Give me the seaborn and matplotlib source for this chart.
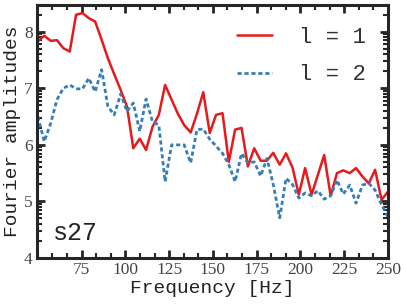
import numpy as np
import pandas as pd
import matplotlib
matplotlib.use('Agg')
import matplotlib.pyplot as plt
from matplotlib.ticker import FixedLocator, FuncFormatter, LogLocator, MultipleLocator
import seaborn as sns

# frequency grid [Hz]
freq = [50.0, 53.6, 57.3, 60.9, 64.5, 68.2, 71.8, 75.5, 79.1, 82.7,
        86.4, 90.0, 93.6, 97.3, 100.9, 104.5, 108.2, 111.8, 115.5, 119.1,
        122.7, 126.4, 130.0, 133.6, 137.3, 140.9, 144.5, 148.2, 151.8, 155.5,
        159.1, 162.7, 166.4, 170.0, 173.6, 177.3, 180.9, 184.5, 188.2, 191.8,
        195.5, 199.1, 202.7, 206.4, 210.0, 213.6, 217.3, 220.9, 224.5, 228.2,
        231.8, 235.5, 239.1, 242.7, 246.4, 250.0]

# log10 of Fourier amplitudes
amp_l1 = [7.83, 7.93, 7.84, 7.85, 7.71, 7.65, 8.30, 8.33, 8.24, 8.18,
          7.86, 7.53, 7.25, 6.97, 6.68, 5.94, 6.11, 5.91, 6.32, 6.53,
          7.06, 6.80, 6.55, 6.35, 6.22, 6.55, 6.93, 6.21, 6.53, 6.56,
          5.70, 6.27, 6.30, 5.62, 5.94, 5.72, 5.72, 5.86, 5.65, 5.85,
          5.60, 5.12, 5.59, 5.12, 5.47, 5.82, 5.10, 5.50, 5.55, 5.50,
          5.59, 5.44, 5.32, 5.56, 5.03, 5.17]
amp_l2 = [6.50, 6.06, 6.38, 6.80, 7.00, 7.06, 6.99, 6.99, 7.18, 6.94,
          7.33, 6.68, 6.53, 6.90, 6.59, 6.74, 6.24, 6.81, 6.41, 6.35,
          5.35, 6.00, 6.00, 6.00, 5.68, 6.27, 6.28, 6.10, 5.98, 5.85,
          5.65, 5.35, 5.85, 5.68, 5.70, 5.45, 5.76, 5.30, 4.71, 5.41,
          5.30, 5.06, 5.15, 5.10, 5.19, 5.04, 5.10, 5.38, 5.13, 5.29,
          4.97, 5.29, 5.32, 5.20, 4.94, 4.73]

x_ticks = [75, 100, 125, 150, 175, 200, 225, 250]
y_ticks = [4, 5, 6, 7, 8]
label_text = 's27'

sns.set_style('ticks')
mono = ['Liberation Mono', 'DejaVu Sans Mono']
serif = ['Liberation Serif', 'DejaVu Serif']

df = pd.DataFrame({'freq': freq,
                   'l1': 10 ** np.array(amp_l1),
                   'l2': 10 ** np.array(amp_l2)})

fig = plt.figure(figsize=(4.07, 3.05), dpi=100)
ax = fig.add_axes([0.091, 0.154, 0.862, 0.831])

sns.lineplot(data=df, x='freq', y='l1', ax=ax, color='#e41a1c', lw=1.8,
             label='l = 1')
sns.lineplot(data=df, x='freq', y='l2', ax=ax, color='#377eb8', lw=2.0,
             label='l = 2')
ax.lines[1].set_linestyle((0, (1.5, 1.0)))

ax.set_yscale('log')
ax.set_xlim(49.5, 250)
ax.set_ylim(1e4, 10 ** 8.48)

ax.xaxis.set_major_locator(FixedLocator(x_ticks))
ax.xaxis.set_minor_locator(MultipleLocator(25 / 3))
ax.yaxis.set_major_locator(FixedLocator([10.0 ** v for v in y_ticks]))
ax.yaxis.set_minor_locator(LogLocator(base=10, subs=np.arange(2, 10)))
ax.yaxis.set_major_formatter(FuncFormatter(lambda v, p: f'{np.log10(v):.0f}'))
ax.yaxis.set_minor_formatter(FuncFormatter(lambda v, p: ''))

ax.tick_params(which='both', direction='in', top=True, right=True, width=1.5,
               labelsize=12.5, pad=3)
ax.tick_params(which='major', length=6, width=2)
ax.tick_params(which='minor', length=3.5)
for t in ax.get_xticklabels() + ax.get_yticklabels():
    t.set_family(serif)
    t.set_color('#444444')
for s in ax.spines.values():
    s.set_linewidth(2.2)
    s.set_visible(True)

ax.set_xlabel('Frequency [Hz]', family=mono, fontsize=14, labelpad=1,
              color='#222222')
ax.set_ylabel('Fourier amplitudes', family=mono, fontsize=14, labelpad=2,
              color='#222222')

ax.text(0.045, 0.07, label_text, transform=ax.transAxes, family=mono,
        fontsize=18, color='#222222')

leg = ax.legend(loc='upper right', frameon=False,
                prop={'family': mono, 'size': 16}, handlelength=1.6,
                labelspacing=0.75, handletextpad=1.2, borderaxespad=0.6)
for t in leg.get_texts():
    t.set_color('#333333')

fig.savefig('out.png', dpi=100)
